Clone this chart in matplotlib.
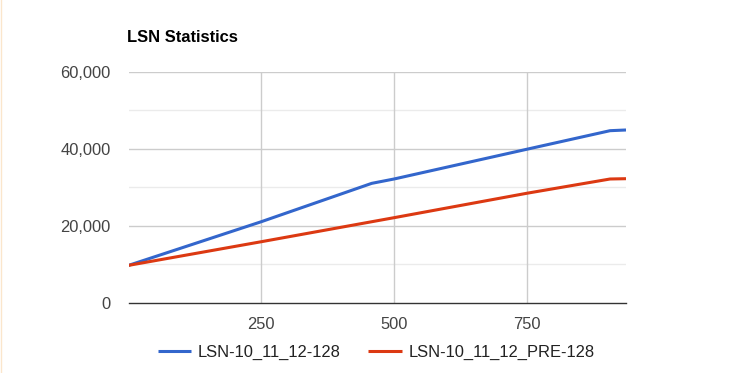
import matplotlib
matplotlib.use("Agg")
import matplotlib.pyplot as plt
from matplotlib.lines import Line2D

# Data
blue_name = "LSN-10_11_12-128"
red_name = "LSN-10_11_12_PRE-128"
blue_x = [0, 250, 458, 500, 750, 907, 937]
blue_y = [9700, 21040, 31000, 32130, 39850, 44680, 44860]
red_x = [0, 250, 500, 750, 907, 937]
red_y = [9700, 15840, 22080, 28420, 32130, 32210]
x_ticks = [250, 500, 750]
x_tick_labels = ["250", "500", "750"]
y_ticks = [0, 20000, 40000, 60000]
y_tick_labels = ["0", "20,000", "40,000", "60,000"]
y_minor = [10000, 30000, 50000]

W, H = 745, 373
plt.rcParams['font.family'] = ['Liberation Sans', 'DejaVu Sans']
FS = 16.5 * 72 / 100

fig = plt.figure(figsize=(W / 100, H / 100), dpi=100)
fig.patch.set_facecolor("white")
left, right, top, bottom = 128.6, 626, 71.7, 302.7
ax = fig.add_axes([left / W, 1 - bottom / H, (right - left) / W, (bottom - top) / H])

ax.set_xlim(0, 937)
ax.set_ylim(0, 60000)

for v in y_minor:
    ax.axhline(v, color="#ebebeb", lw=1.0, zorder=1)
for v in y_ticks[1:]:
    ax.axhline(v, color="#cccccc", lw=1.0, zorder=1)
for v in x_ticks:
    ax.axvline(v, color="#cccccc", lw=1.0, zorder=1)
ax.axhline(0, color="#333333", lw=1.0, zorder=4, clip_on=False)

ax.plot(blue_x, blue_y, color="#3366cc", lw=2.2, label=blue_name, zorder=3,
        solid_joinstyle="round", solid_capstyle="butt")
ax.plot(red_x, red_y, color="#dc3912", lw=2.2, label=red_name, zorder=3,
        solid_joinstyle="round", solid_capstyle="butt")

for s in ax.spines.values():
    s.set_visible(False)
ax.set_xticks(x_ticks)
ax.set_xticklabels(x_tick_labels)
ax.set_yticks(y_ticks)
ax.set_yticklabels(y_tick_labels)
ax.tick_params(axis="both", length=0, labelsize=FS, labelcolor="#444444")
ax.tick_params(axis="y", pad=13)
ax.tick_params(axis="x", pad=10)

fig.text(126.8 / W, 1 - 42 / H, "LSN Statistics", fontsize=FS, fontweight="bold",
         color="black", ha="left", va="baseline")

handles, labels = ax.get_legend_handles_labels()
fig.legend(handles, labels, loc="center", bbox_to_anchor=(376 / W, 1 - 352.5 / H),
           ncol=2, frameon=False, fontsize=FS, handlelength=2.05, handletextpad=0.37,
           columnspacing=1.7, borderpad=0, labelcolor="#222222")

fig.add_artist(Line2D([0.5 / W, 0.5 / W], [0, 1], color="#fbe6cc", lw=1.0,
                      transform=fig.transFigure))

fig.savefig("out.png", dpi=100, facecolor="white")
